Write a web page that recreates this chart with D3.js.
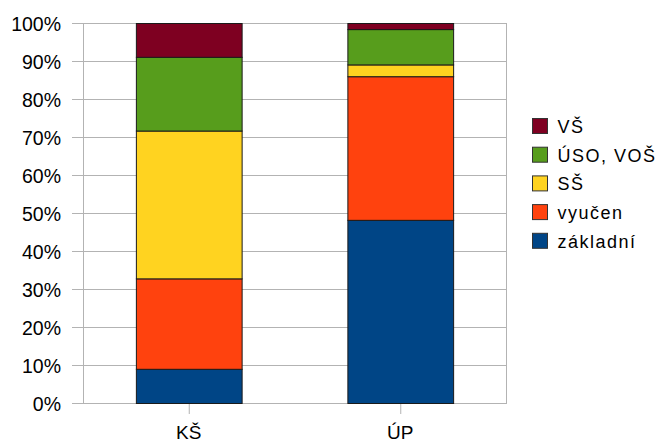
<!DOCTYPE html>
<html>
<head>
<meta charset="utf-8">
<script src="https://cdn.jsdelivr.net/npm/d3@7"></script>
<style>
  html, body { margin: 0; padding: 0; background: #fff; }
  svg { display: block; font-family: "Liberation Sans", Arial, sans-serif; }
</style>
</head>
<body>
<svg id="chart" width="660" height="443"></svg>
<script>
// Categories and stacked shares (in %)
const categories = ["KŠ", "ÚP"];
const seriesNames = ["základní", "vyučen", "SŠ", "ÚSO, VOŠ", "VŠ"];
const zakladni = [9.0, 48.2];
const vyucen   = [23.8, 37.8];
const ss       = [38.9, 3.1];
const uso      = [19.4, 9.3];
const vs       = [8.9, 1.6];
const seriesColors = ["#004586", "#ff420e", "#ffd320", "#579d1c", "#7e0021"];
const yTicks = [0, 10, 20, 30, 40, 50, 60, 70, 80, 90, 100];

const seriesValues = [zakladni, vyucen, ss, uso, vs];
const rows = categories.map((c, i) => {
  const r = { cat: c };
  seriesNames.forEach((s, j) => r[s] = seriesValues[j][i]);
  return r;
});

const svg = d3.select("#chart");
const plot = { left: 83, right: 506, top: 23, bottom: 403 };

const x = d3.scaleBand().domain(categories).range([plot.left, plot.right]).paddingInner(0).paddingOuter(0);
const y = d3.scaleLinear().domain([0, 100]).range([plot.bottom, plot.top]);
const color = d3.scaleOrdinal().domain(seriesNames).range(seriesColors);

// horizontal gridlines with short ticks on the left
svg.append("g").selectAll("line").data(yTicks).join("line")
  .attr("x1", plot.left - 11).attr("x2", plot.right)
  .attr("y1", d => y(d) + 0.5).attr("y2", d => y(d) + 0.5)
  .attr("stroke", "#b3b3b3").attr("stroke-width", 1);

// plot frame sides
svg.append("line").attr("x1", plot.left + 0.5).attr("x2", plot.left + 0.5)
  .attr("y1", plot.top).attr("y2", plot.bottom + 1).attr("stroke", "#b3b3b3");
svg.append("line").attr("x1", plot.right + 0.5).attr("x2", plot.right + 0.5)
  .attr("y1", plot.top).attr("y2", plot.bottom + 1).attr("stroke", "#b3b3b3");

// y labels
svg.append("g").selectAll("text").data(yTicks).join("text")
  .attr("x", 61).attr("y", d => y(d) + 1).attr("dy", "0.35em")
  .attr("text-anchor", "end").attr("font-size", 19.5).attr("fill", "#000")
  .text(d => d + "%");

// category ticks and labels
svg.append("g").selectAll("line").data(categories).join("line")
  .attr("x1", d => x(d) + x.bandwidth() / 2 + 0.5).attr("x2", d => x(d) + x.bandwidth() / 2 + 0.5)
  .attr("y1", plot.bottom).attr("y2", plot.bottom + 11)
  .attr("stroke", "#b3b3b3");
svg.append("g").selectAll("text").data(categories).join("text")
  .attr("x", d => x(d) + x.bandwidth() / 2).attr("y", 439)
  .attr("text-anchor", "middle").attr("font-size", 19).attr("fill", "#000")
  .text(d => d);

// stacked bars
const stack = d3.stack().keys(seriesNames)(rows);
const barW = x.bandwidth() / 2;
svg.append("g").selectAll("g").data(stack).join("g")
  .attr("fill", d => color(d.key))
  .selectAll("rect").data(d => d).join("rect")
  .attr("x", d => x(d.data.cat) + (x.bandwidth() - barW) / 2 + 0.5)
  .attr("y", d => y(d[1]) + 0.5)
  .attr("width", barW)
  .attr("height", d => y(d[0]) - y(d[1]))
  .attr("stroke", "#1a1a1a").attr("stroke-width", 1);

// legend (top entry is the top of the stack)
const legendItems = seriesNames.slice().reverse();
const lg = svg.append("g").selectAll("g").data(legendItems).join("g")
  .attr("transform", (d, i) => `translate(532.5, ${118.5 + i * 28.7})`);
lg.append("rect").attr("width", 15).attr("height", 15)
  .attr("fill", d => color(d)).attr("stroke", "#333").attr("stroke-width", 1);
lg.append("text").attr("x", 25).attr("y", 8).attr("dy", "0.36em")
  .attr("font-size", 18).attr("letter-spacing", 1.5).attr("fill", "#000").text(d => d);
</script>
</body>
</html>
